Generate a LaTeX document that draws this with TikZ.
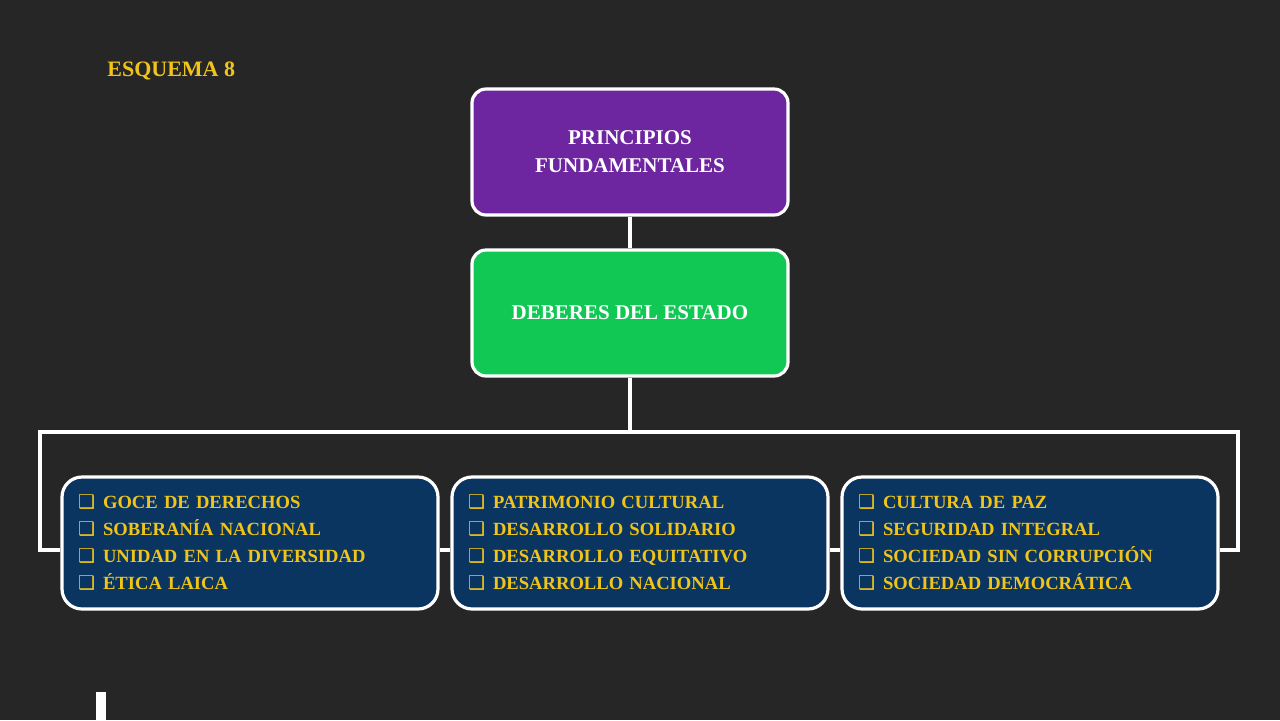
\documentclass[tikz,border=0pt]{standalone}
\usepackage{fontspec}
\setmainfont{Liberation Serif}
\newfontfamily\symfont{DejaVu Sans}
\usetikzlibrary{positioning}
\definecolor{bgc}{HTML}{262626}
\definecolor{gold}{HTML}{F0C419}
\definecolor{purp}{HTML}{6E25A0}
\definecolor{grn}{HTML}{12C854}
\definecolor{navy}{HTML}{0B3561}
\newcommand{\itm}{{\symfont\fontsize{9.5}{10}\selectfont ❑}\hspace{4pt}}
\begin{document}
\begin{tikzpicture}[x=0.5pt,y=-0.5pt,
  top/.style={draw=white,line width=1.6pt,rounded corners=7pt,minimum width=158pt,minimum height=63pt,text=white,align=center,font=\bfseries\fontsize{10.5}{14}\selectfont},
  item/.style={draw=white,line width=1.6pt,rounded corners=10pt,inner xsep=8pt,text width=172pt,minimum height=66pt,fill=navy,text=gold,align=left,font=\bfseries\fontsize{9.3}{13.5}\selectfont},
  link/.style={draw=white,line width=2pt}]
\fill[bgc] (0,0) rectangle (1280,720);
\useasboundingbox (0,0) rectangle (1280,720);
% title
\node[text=gold,font=\bfseries\fontsize{11}{12}\selectfont,anchor=west,inner sep=0pt] (title) at (107,71) {ESQUEMA 8};
% Nodes
\node[top,fill=purp] (pf) at (630,152) {PRINCIPIOS\\FUNDAMENTALES};
\node[top,fill=grn] (de) at (630,313) {DEBERES DEL ESTADO};
\node[item] (b1) at (250,543) {\itm GOCE DE DERECHOS\\\itm SOBERANÍA NACIONAL\\\itm UNIDAD EN LA DIVERSIDAD\\\itm ÉTICA LAICA};
\node[item] (b2) at (640,543) {\itm PATRIMONIO CULTURAL\\\itm DESARROLLO SOLIDARIO\\\itm DESARROLLO EQUITATIVO\\\itm DESARROLLO NACIONAL};
\node[item] (b3) at (1030,543) {\itm CULTURA DE PAZ\\\itm SEGURIDAD INTEGRAL\\\itm SOCIEDAD SIN CORRUPCIÓN\\\itm SOCIEDAD DEMOCRÁTICA};
\coordinate (hub) at (630,432);
\coordinate (lc) at (40,432);
\coordinate (rc) at (1238,432);
% lines
\draw[link] (pf) -- (de);
\draw[link] (de) -- (hub);
\draw[link] (b1.west |- 0,550) -| (lc) -- (rc) |- (b3.east |- 0,550);
\draw[link] (b1.east |- 0,550) -- (b2.west |- 0,550);
\draw[link] (b2.east |- 0,550) -- (b3.west |- 0,550);
\fill[white] (96,692) rectangle (106,720);
\end{tikzpicture}
\end{document}
